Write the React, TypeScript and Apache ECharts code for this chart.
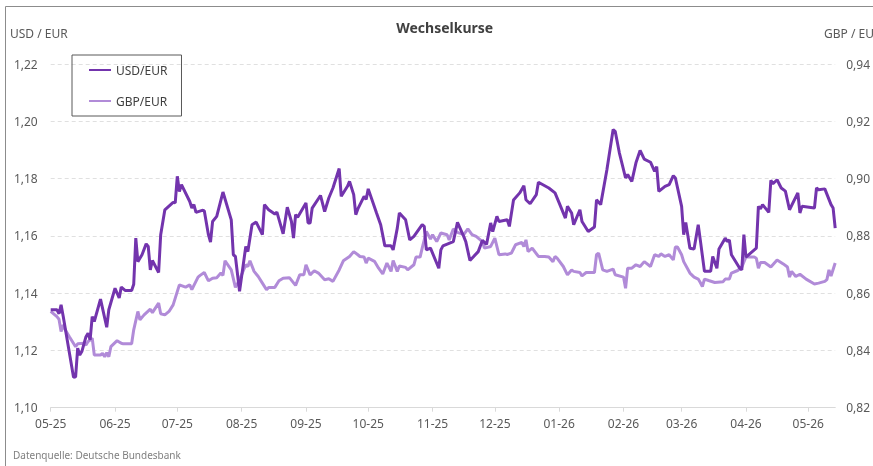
import React, { useEffect, useRef } from 'react';
import * as echarts from 'echarts';

const startDate = '2025-05-01';
const endDate = '2026-05-14';

const usdEur: [string, number][] = [
  ['2025-05-01', 1.1342], ['2025-05-04', 1.1342], ['2025-05-05', 1.1328], ['2025-05-06', 1.1359], ['2025-05-07', 1.132],
  ['2025-05-12', 1.1106], ['2025-05-13', 1.1108], ['2025-05-14', 1.1208], ['2025-05-15', 1.1184], ['2025-05-16', 1.1196],
  ['2025-05-18', 1.1248], ['2025-05-19', 1.126], ['2025-05-20', 1.1237], ['2025-05-21', 1.1318], ['2025-05-22', 1.1301],
  ['2025-05-25', 1.1379], ['2025-05-28', 1.1281], ['2025-05-29', 1.1342], ['2025-06-01', 1.1417], ['2025-06-03', 1.1383],
  ['2025-06-04', 1.1421], ['2025-06-06', 1.1409], ['2025-06-09', 1.1409], ['2025-06-10', 1.1431], ['2025-06-11', 1.1592],
  ['2025-06-12', 1.151], ['2025-06-14', 1.1534], ['2025-06-16', 1.1572], ['2025-06-17', 1.1563], ['2025-06-18', 1.1481],
  ['2025-06-19', 1.1514], ['2025-06-22', 1.1472], ['2025-06-23', 1.1604], ['2025-06-25', 1.1691], ['2025-06-29', 1.1717],
  ['2025-06-30', 1.1715], ['2025-07-01', 1.1808], ['2025-07-02', 1.1755], ['2025-07-03', 1.1779], ['2025-07-07', 1.172],
  ['2025-07-08', 1.1697], ['2025-07-09', 1.1709], ['2025-07-10', 1.1682], ['2025-07-13', 1.1689], ['2025-07-14', 1.1688],
  ['2025-07-16', 1.1604], ['2025-07-17', 1.1578], ['2025-07-18', 1.165], ['2025-07-20', 1.1668], ['2025-07-23', 1.1753],
  ['2025-07-27', 1.1656], ['2025-07-28', 1.1534], ['2025-07-29', 1.1528], ['2025-07-31', 1.1406], ['2025-08-03', 1.1563],
  ['2025-08-04', 1.1545], ['2025-08-06', 1.1639], ['2025-08-08', 1.1648], ['2025-08-11', 1.1604], ['2025-08-12', 1.1709],
  ['2025-08-14', 1.1691], ['2025-08-17', 1.1676], ['2025-08-18', 1.1683], ['2025-08-21', 1.1607], ['2025-08-23', 1.17],
  ['2025-08-25', 1.165], ['2025-08-26', 1.1592], ['2025-08-27', 1.1674], ['2025-08-28', 1.1665], ['2025-09-01', 1.1715],
  ['2025-09-02', 1.1645], ['2025-09-03', 1.1645], ['2025-09-04', 1.1697], ['2025-09-08', 1.1741], ['2025-09-10', 1.1685],
  ['2025-09-12', 1.1732], ['2025-09-14', 1.1767], ['2025-09-17', 1.1835], ['2025-09-18', 1.1738], ['2025-09-21', 1.1773],
  ['2025-09-22', 1.179], ['2025-09-24', 1.1744], ['2025-09-25', 1.1674], ['2025-09-26', 1.1694], ['2025-09-29', 1.1738],
  ['2025-09-30', 1.1727], ['2025-10-01', 1.1764], ['2025-10-05', 1.168], ['2025-10-07', 1.1639], ['2025-10-09', 1.1565],
  ['2025-10-12', 1.1565], ['2025-10-13', 1.1551], ['2025-10-15', 1.1627], ['2025-10-16', 1.168], ['2025-10-19', 1.1656],
  ['2025-10-21', 1.1586], ['2025-10-23', 1.1598], ['2025-10-27', 1.1639], ['2025-10-28', 1.1633], ['2025-10-29', 1.1551],
  ['2025-10-31', 1.1557], ['2025-11-04', 1.1487], ['2025-11-05', 1.1551], ['2025-11-06', 1.1565], ['2025-11-11', 1.158],
  ['2025-11-13', 1.1647], ['2025-11-16', 1.1598], ['2025-11-17', 1.158], ['2025-11-19', 1.1514], ['2025-11-23', 1.1545],
  ['2025-11-25', 1.1584], ['2025-11-27', 1.157], ['2025-11-29', 1.1645], ['2025-11-30', 1.1615], ['2025-12-02', 1.1668],
  ['2025-12-03', 1.165], ['2025-12-07', 1.1656], ['2025-12-08', 1.1633], ['2025-12-10', 1.1725], ['2025-12-13', 1.175],
  ['2025-12-15', 1.1775], ['2025-12-16', 1.1726], ['2025-12-18', 1.1712], ['2025-12-21', 1.1744], ['2025-12-22', 1.1787],
  ['2025-12-27', 1.1767], ['2025-12-30', 1.175], ['2026-01-01', 1.1715], ['2026-01-04', 1.1662], ['2026-01-05', 1.1703],
  ['2026-01-07', 1.168], ['2026-01-08', 1.1639], ['2026-01-11', 1.1691], ['2026-01-12', 1.165], ['2026-01-15', 1.1615],
  ['2026-01-18', 1.1631], ['2026-01-19', 1.1726], ['2026-01-21', 1.1709], ['2026-01-24', 1.1831], ['2026-01-27', 1.1971],
  ['2026-01-28', 1.1965], ['2026-01-30', 1.189], ['2026-02-02', 1.1802], ['2026-02-03', 1.1814], ['2026-02-05', 1.179],
  ['2026-02-07', 1.1855], ['2026-02-09', 1.1898], ['2026-02-11', 1.1868], ['2026-02-14', 1.1857], ['2026-02-16', 1.1825],
  ['2026-02-17', 1.1842], ['2026-02-18', 1.1755], ['2026-02-21', 1.1773], ['2026-02-23', 1.1779], ['2026-02-25', 1.181],
  ['2026-02-26', 1.1802], ['2026-03-01', 1.1703], ['2026-03-02', 1.1604], ['2026-03-03', 1.1647], ['2026-03-05', 1.1557],
  ['2026-03-07', 1.1554], ['2026-03-09', 1.1639], ['2026-03-10', 1.1586], ['2026-03-12', 1.1476], ['2026-03-15', 1.1476],
  ['2026-03-16', 1.1528], ['2026-03-18', 1.1487], ['2026-03-19', 1.1554], ['2026-03-22', 1.1592], ['2026-03-23', 1.158],
  ['2026-03-24', 1.1586], ['2026-03-25', 1.1534], ['2026-03-29', 1.1487], ['2026-03-30', 1.1481], ['2026-03-31', 1.1604],
  ['2026-04-01', 1.1526], ['2026-04-06', 1.1557], ['2026-04-07', 1.1703], ['2026-04-08', 1.1694], ['2026-04-09', 1.1709],
  ['2026-04-12', 1.1682], ['2026-04-13', 1.1794], ['2026-04-14', 1.1782], ['2026-04-16', 1.1796], ['2026-04-18', 1.1767],
  ['2026-04-20', 1.1756], ['2026-04-22', 1.1691], ['2026-04-26', 1.175], ['2026-04-27', 1.168], ['2026-04-28', 1.1703],
  ['2026-05-04', 1.1697], ['2026-05-05', 1.1767], ['2026-05-06', 1.1761], ['2026-05-09', 1.1764], ['2026-05-12', 1.1709],
  ['2026-05-13', 1.1697], ['2026-05-14', 1.1627],
];

const gbpEur: [string, number][] = [
  ['2025-05-01', 0.8536], ['2025-05-04', 0.8518], ['2025-05-05', 0.8509], ['2025-05-06', 0.8466], ['2025-05-07', 0.8489],
  ['2025-05-08', 0.8472], ['2025-05-10', 0.8448], ['2025-05-13', 0.8413], ['2025-05-14', 0.8423], ['2025-05-17', 0.8425],
  ['2025-05-18', 0.8419], ['2025-05-19', 0.8431], ['2025-05-21', 0.8443], ['2025-05-22', 0.8384], ['2025-05-25', 0.8384],
  ['2025-05-26', 0.839], ['2025-05-27', 0.8378], ['2025-05-28', 0.8392], ['2025-05-29', 0.8378], ['2025-05-30', 0.8413],
  ['2025-06-02', 0.8434], ['2025-06-04', 0.8425], ['2025-06-05', 0.8423], ['2025-06-09', 0.8423], ['2025-06-10', 0.8472],
  ['2025-06-12', 0.8536], ['2025-06-13', 0.8507], ['2025-06-15', 0.8524], ['2025-06-18', 0.8544], ['2025-06-19', 0.8532],
  ['2025-06-22', 0.8565], ['2025-06-23', 0.8528], ['2025-06-25', 0.8524], ['2025-06-27', 0.8536], ['2025-06-29', 0.8559],
  ['2025-07-02', 0.8629], ['2025-07-05', 0.8621], ['2025-07-07', 0.8629], ['2025-07-08', 0.8612], ['2025-07-11', 0.8656],
  ['2025-07-12', 0.8662], ['2025-07-14', 0.8672], ['2025-07-16', 0.8643], ['2025-07-18', 0.8652], ['2025-07-20', 0.8654],
  ['2025-07-22', 0.867], ['2025-07-23', 0.8662], ['2025-07-24', 0.8713], ['2025-07-27', 0.8681], ['2025-07-29', 0.862],
  ['2025-07-31', 0.8647], ['2025-08-03', 0.8699], ['2025-08-04', 0.8693], ['2025-08-05', 0.8713], ['2025-08-07', 0.8676],
  ['2025-08-09', 0.8658], ['2025-08-11', 0.8635], ['2025-08-13', 0.8612], ['2025-08-14', 0.862], ['2025-08-17', 0.862],
  ['2025-08-19', 0.8643], ['2025-08-21', 0.8652], ['2025-08-24', 0.8654], ['2025-08-27', 0.8627], ['2025-08-29', 0.8664],
  ['2025-08-31', 0.8664], ['2025-09-01', 0.8699], ['2025-09-03', 0.8664], ['2025-09-05', 0.8678], ['2025-09-07', 0.867],
  ['2025-09-10', 0.8647], ['2025-09-12', 0.865], ['2025-09-14', 0.8641], ['2025-09-17', 0.8681], ['2025-09-19', 0.8713],
  ['2025-09-22', 0.8728], ['2025-09-24', 0.8745], ['2025-09-26', 0.8734], ['2025-09-27', 0.8728], ['2025-09-29', 0.8726],
  ['2025-09-30', 0.8705], ['2025-10-01', 0.8722], ['2025-10-04', 0.8711], ['2025-10-06', 0.8687], ['2025-10-08', 0.8667],
  ['2025-10-10', 0.8705], ['2025-10-12', 0.8676], ['2025-10-13', 0.8714], ['2025-10-15', 0.8676], ['2025-10-16', 0.8695],
  ['2025-10-19', 0.869], ['2025-10-20', 0.8681], ['2025-10-23', 0.8699], ['2025-10-24', 0.8726], ['2025-10-26', 0.8726],
  ['2025-10-27', 0.8757], ['2025-10-29', 0.8815], ['2025-10-31', 0.8789], ['2025-11-01', 0.8804], ['2025-11-03', 0.878],
  ['2025-11-05', 0.881], ['2025-11-08', 0.8804], ['2025-11-09', 0.8786], ['2025-11-11', 0.8824], ['2025-11-13', 0.8812],
  ['2025-11-16', 0.8804], ['2025-11-18', 0.8824], ['2025-11-20', 0.8804], ['2025-11-22', 0.8798], ['2025-11-25', 0.878],
  ['2025-11-26', 0.8757], ['2025-11-29', 0.8763], ['2025-12-01', 0.8792], ['2025-12-03', 0.8734], ['2025-12-06', 0.8737],
  ['2025-12-07', 0.8735], ['2025-12-09', 0.874], ['2025-12-11', 0.8769], ['2025-12-14', 0.8777], ['2025-12-15', 0.8763],
  ['2025-12-16', 0.8786], ['2025-12-17', 0.8745], ['2025-12-19', 0.8757], ['2025-12-22', 0.8728], ['2025-12-25', 0.8728],
  ['2025-12-27', 0.8726], ['2025-12-29', 0.871], ['2025-12-30', 0.8728], ['2025-12-31', 0.8722], ['2026-01-03', 0.8693],
  ['2026-01-05', 0.8664], ['2026-01-07', 0.8681], ['2026-01-08', 0.8676], ['2026-01-11', 0.8672], ['2026-01-12', 0.866],
  ['2026-01-14', 0.8672], ['2026-01-18', 0.8672], ['2026-01-19', 0.8734], ['2026-01-20', 0.874], ['2026-01-22', 0.8681],
  ['2026-01-24', 0.8676], ['2026-01-27', 0.8684], ['2026-01-28', 0.8664], ['2026-02-01', 0.8656], ['2026-02-02', 0.8617],
  ['2026-02-03', 0.8687], ['2026-02-05', 0.8687], ['2026-02-07', 0.8699], ['2026-02-09', 0.8693], ['2026-02-11', 0.871],
  ['2026-02-14', 0.8693], ['2026-02-16', 0.8734], ['2026-02-18', 0.8728], ['2026-02-19', 0.8737], ['2026-02-21', 0.8728],
  ['2026-02-23', 0.8734], ['2026-02-25', 0.8716], ['2026-02-26', 0.8761], ['2026-02-27', 0.8761], ['2026-03-01', 0.8734],
  ['2026-03-02', 0.871], ['2026-03-05', 0.867], ['2026-03-07', 0.8656], ['2026-03-09', 0.8649], ['2026-03-10', 0.8637],
  ['2026-03-11', 0.8623], ['2026-03-12', 0.8649], ['2026-03-14', 0.8644], ['2026-03-17', 0.8637], ['2026-03-21', 0.864],
  ['2026-03-22', 0.8649], ['2026-03-24', 0.8649], ['2026-03-25', 0.867], ['2026-03-28', 0.8679], ['2026-03-30', 0.8691],
  ['2026-04-01', 0.8726], ['2026-04-05', 0.8726], ['2026-04-06', 0.8722], ['2026-04-07', 0.8687], ['2026-04-08', 0.8707],
  ['2026-04-10', 0.8707], ['2026-04-13', 0.8691], ['2026-04-16', 0.8716], ['2026-04-19', 0.8702], ['2026-04-21', 0.8691],
  ['2026-04-22', 0.8656], ['2026-04-23', 0.8676], ['2026-04-25', 0.8658], ['2026-04-27', 0.8666], ['2026-04-30', 0.8649],
  ['2026-05-04', 0.8632], ['2026-05-06', 0.8635], ['2026-05-09', 0.8641], ['2026-05-10', 0.8647], ['2026-05-11', 0.8681],
  ['2026-05-12', 0.866], ['2026-05-14', 0.8705],
];

const seriesNames = ['USD/EUR', 'GBP/EUR'];
const seriesColors = ['#7334ad', '#b18bd8'];
const leftAxisRange = [1.1, 1.22];
const rightAxisRange = [0.82, 0.94];
const axisStep = 0.02;

function buildDays(start: string, end: string): string[] {
  const out: string[] = [];
  const d = new Date(start + 'T00:00:00Z');
  const e = new Date(end + 'T00:00:00Z');
  while (d.getTime() <= e.getTime()) {
    out.push(d.toISOString().slice(0, 10));
    d.setUTCDate(d.getUTCDate() + 1);
  }
  return out;
}

const FONT = '"Noto Sans", sans-serif';

export default function App() {
  const ref = useRef<HTMLDivElement>(null);
  useEffect(() => {
    if (!ref.current) return;
    const chart = echarts.init(ref.current, undefined, { renderer: 'svg' });
    const days = buildDays(startDate, endDate);
    const idx = new Map(days.map((d, i) => [d, i]));
    const toPts = (arr: [string, number][]) => arr.map(([d, v]) => [idx.get(d), v]);
    const isMonthStart = (_i: number, v: string) => v.slice(8, 10) === '01';
    const fmt = (v: number) => v.toFixed(2).replace('.', ',');
    const GRID_LEFT = 50.7;
    const GRID_RIGHT = 34.3;

    chart.setOption({
      animation: false,
      textStyle: { fontFamily: FONT },
      grid: { left: GRID_LEFT, right: GRID_RIGHT, top: 64, bottom: 58.3, containLabel: false },
      legend: {
        orient: 'vertical',
        left: 72,
        top: 55,
        data: seriesNames,
        borderColor: '#595959',
        borderWidth: 1,
        padding: [9, 14, 9, 16],
        itemWidth: 22,
        itemHeight: 14,
        itemGap: 19,
        itemStyle: { opacity: 0 },
        textStyle: { fontSize: 12, color: '#404040', fontFamily: FONT },
      },
      xAxis: {
        type: 'category',
        data: days,
        boundaryGap: false,
        axisLine: { lineStyle: { color: '#d9d9d9', width: 1 } },
        axisTick: { show: true, interval: isMonthStart, length: 4, lineStyle: { color: '#d9d9d9' } },
        axisLabel: {
          interval: isMonthStart,
          formatter: (v: string) => v.slice(5, 7) + '-' + v.slice(2, 4),
          color: '#595959',
          fontSize: 12,
          margin: 10,
          fontFamily: FONT,
        },
        splitLine: { show: false },
      },
      yAxis: [
        {
          type: 'value',
          min: leftAxisRange[0],
          max: leftAxisRange[1],
          interval: axisStep,
          axisLine: { show: false },
          axisTick: { show: false },
          axisLabel: { formatter: fmt, color: '#595959', fontSize: 12, margin: 13, fontFamily: FONT },
          splitLine: { lineStyle: { color: '#e0e0e0', type: [4, 3], width: 1 } },
        },
        {
          type: 'value',
          position: 'right',
          min: rightAxisRange[0],
          max: rightAxisRange[1],
          interval: axisStep,
          axisLine: { show: false },
          axisTick: { show: false },
          axisLabel: { formatter: fmt, color: '#595959', fontSize: 12, margin: 11, fontFamily: FONT },
          splitLine: { show: false },
        },
      ],
      series: [
        {
          name: seriesNames[1],
          type: 'line',
          yAxisIndex: 1,
          data: toPts(gbpEur),
          symbol: 'none',
          color: seriesColors[1],
          lineStyle: { width: 3, color: seriesColors[1] },
          z: 2,
        },
        {
          name: seriesNames[0],
          type: 'line',
          yAxisIndex: 0,
          data: toPts(usdEur),
          symbol: 'none',
          color: seriesColors[0],
          lineStyle: { width: 3, color: seriesColors[0] },
          z: 3,
        },
      ],
      graphic: [
        {
          type: 'rect',
          silent: true,
          z: -10,
          shape: { x: 5.5, y: 6.5, width: 900, height: 500 },
          style: { fill: 'none', stroke: '#8c8c8c', lineWidth: 1 },
        },
        {
          type: 'text',
          x: GRID_LEFT + (873 - GRID_LEFT - GRID_RIGHT) / 2,
          y: 27,
          style: {
            text: 'Wechselkurse',
            align: 'center',
            verticalAlign: 'middle',
            fontSize: 14,
            fontWeight: 'bold',
            fill: '#404040',
            fontFamily: FONT,
          },
        },
        {
          type: 'text',
          x: 10,
          y: 33,
          style: { text: 'USD / EUR', verticalAlign: 'middle', fontSize: 12, fill: '#595959', fontFamily: FONT },
        },
        {
          type: 'text',
          x: 824,
          y: 33,
          style: { text: 'GBP / EUR', verticalAlign: 'middle', fontSize: 12, fill: '#595959', fontFamily: FONT },
        },
        {
          type: 'text',
          x: 13,
          y: 455,
          style: {
            text: 'Datenquelle: Deutsche Bundesbank',
            verticalAlign: 'middle',
            fontSize: 10,
            fill: '#7f7f7f',
            fontFamily: FONT,
          },
        },
      ],
    });
    return () => chart.dispose();
  }, []);
  return <div ref={ref} style={{ position: 'fixed', left: 0, top: 0, width: 873, height: 466 }} />;
}
